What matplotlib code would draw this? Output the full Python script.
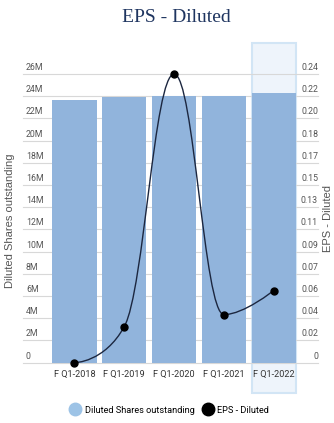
import matplotlib
matplotlib.use('Agg')
import matplotlib.pyplot as plt
import matplotlib.transforms as mtransforms
from matplotlib.path import Path
from matplotlib.patches import PathPatch, Rectangle
from matplotlib.lines import Line2D

# data
quarters = ['F Q1-2018', 'F Q1-2019', 'F Q1-2020', 'F Q1-2021', 'F Q1-2022']
shares = [23.7e6, 23.95e6, 24.0e6, 24.0e6, 24.3e6]
eps = [0.0, 0.03, 0.24, 0.04, 0.06]

left_vals = [i * 2e6 for i in range(14)]
left_labels = ['0', '2M', '4M', '6M', '8M', '10M', '12M', '14M', '16M', '18M',
               '20M', '22M', '24M', '26M']
right_labels = ['0', '0.02', '0.04', '0.06', '0.07', '0.09', '0.11', '0.13',
                '0.15', '0.17', '0.18', '0.20', '0.22', '0.24']

narrow = ['Liberation Sans Narrow', 'Roboto', 'DejaVu Sans']
bar_color = '#91b4dc'
line_color = '#1c2740'


def spline_path(xs, ys, smoothing=1.5):
    # highcharts-style spline
    n = len(xs)
    denom = smoothing + 1
    lc = [None] * n
    rc = [None] * n
    for i in range(n):
        x, y = xs[i], ys[i]
        if 0 < i < n - 1:
            lx, ly = xs[i - 1], ys[i - 1]
            nx, ny = xs[i + 1], ys[i + 1]
            lcx = (smoothing * x + lx) / denom
            lcy = (smoothing * y + ly) / denom
            rcx = (smoothing * x + nx) / denom
            rcy = (smoothing * y + ny) / denom
            corr = (rcy - lcy) * (rcx - x) / (rcx - lcx) + y - rcy
            lcy += corr
            rcy += corr
            if lcy > ly and lcy > y:
                lcy = max(ly, y)
                rcy = 2 * y - lcy
            elif lcy < ly and lcy < y:
                lcy = min(ly, y)
                rcy = 2 * y - lcy
            if rcy > ny and rcy > y:
                rcy = max(ny, y)
                lcy = 2 * y - rcy
            elif rcy < ny and rcy < y:
                rcy = min(ny, y)
                lcy = 2 * y - rcy
            lc[i] = (lcx, lcy)
            rc[i] = (rcx, rcy)
        else:
            lc[i] = rc[i] = (x, y)
    verts = [(xs[0], ys[0])]
    codes = [Path.MOVETO]
    for i in range(1, n):
        verts += [rc[i - 1], lc[i], (xs[i], ys[i])]
        codes += [Path.CURVE4] * 3
    return Path(verts, codes)


fig = plt.figure(figsize=(3.34, 4.23), dpi=100)
ax = fig.add_axes([23 / 334, 1 - 362.7 / 423, 295 / 334, 288.7 / 423])
ax2 = ax.twinx()

x = list(range(len(quarters)))
ax.set_xlim(-1.034, 4.89)
ax.set_ylim(0, 26e6)
ax2.set_ylim(0, 0.24)

# hover highlight on last category
hl_trans = mtransforms.blended_transform_factory(ax.transData, fig.transFigure)
ax.add_patch(Rectangle((x[-1] - 0.445, 1 - 393 / 423), 0.89, (393 - 42.7) / 423,
                       transform=hl_trans, facecolor='#eef4fb', edgecolor='#d2e5f5',
                       linewidth=1.5, clip_on=False, zorder=0))

for v in left_vals:
    ax.axhline(v, color='#d8d8d8', linewidth=0.8, zorder=1, clip_on=False)

ax.bar(x, shares, width=0.89, color=bar_color, zorder=2)

# tick labels sit above the grid lines
lt = mtransforms.blended_transform_factory(ax.transAxes, ax.transData)
for v, lab in zip(left_vals, left_labels):
    ax.text(0, v, lab, transform=lt + mtransforms.ScaledTranslation(0.03, 0.04, fig.dpi_scale_trans),
            ha='left', va='baseline', fontsize=6.3, color='#555555', family=narrow)
rt = mtransforms.blended_transform_factory(ax2.transAxes, ax2.transData)
for v, lab in zip(left_vals, right_labels):
    ax2.text(1, v / 26e6 * 0.24, lab,
             transform=rt + mtransforms.ScaledTranslation(0, 0.04, fig.dpi_scale_trans),
             ha='right', va='baseline', fontsize=6.3, color='#555555', family=narrow)

ax.set_yticks([])
ax2.set_yticks([])
ax.set_xticks(x, quarters, family=narrow)
ax.tick_params(axis='x', length=0, pad=5, labelsize=6.6, labelcolor='#333333')
for a in (ax, ax2):
    for s in a.spines.values():
        s.set_visible(False)
ax.patch.set_visible(False)

# EPS spline
ax2.add_patch(PathPatch(spline_path(x, eps), facecolor='none', edgecolor=line_color,
                        linewidth=1.0, zorder=3, clip_on=False))
ax2.plot(x, eps, 'o', color='black', markersize=5, zorder=4, clip_on=False)

fig.text(10 / 334, 1 - 221 / 423, 'Diluted Shares outstanding', rotation=90,
         ha='center', va='center', fontsize=8, color='#555555', family='Liberation Sans')
fig.text(328 / 334, 1 - 218 / 423, 'EPS - Diluted', rotation=90,
         ha='center', va='center', fontsize=8, color='#555555', family='Liberation Sans')

fig.text(176 / 334, 1 - 17 / 423, 'EPS - Diluted', ha='center', va='center',
         fontsize=14, color='#1f3560', family='Liberation Serif')

handles = [Line2D([], [], marker='o', ls='', markersize=9, color='#9dc3e6'),
           Line2D([], [], marker='o', ls='', markersize=9, color='black')]
fig.legend(handles, ['Diluted Shares outstanding', 'EPS - Diluted'], ncol=2,
           loc='center', bbox_to_anchor=(170 / 334, 1 - 410 / 423), frameon=False,
           handletextpad=0.5, columnspacing=1.0, handlelength=1.0,
           prop={'family': narrow, 'size': 6.6})

fig.savefig('out.png', dpi=100)
